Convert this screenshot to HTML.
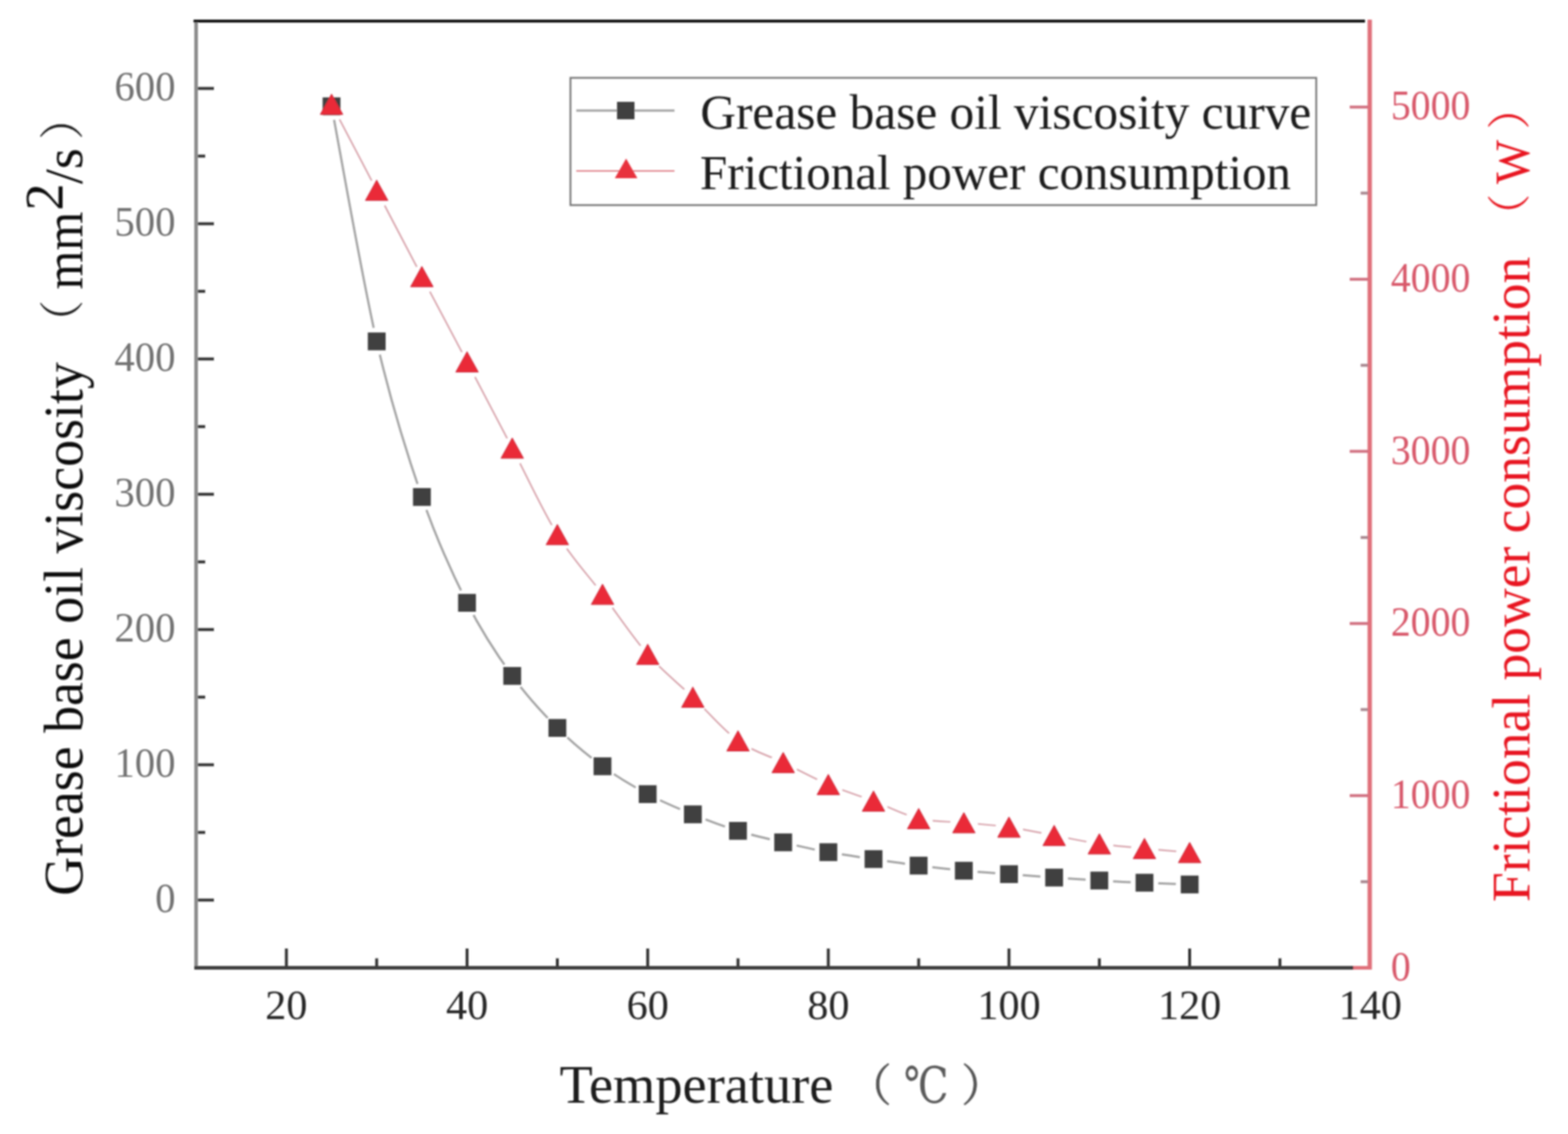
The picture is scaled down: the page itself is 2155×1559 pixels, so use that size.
<!DOCTYPE html>
<html><head><meta charset="utf-8"><title>Grease base oil viscosity and frictional power consumption vs temperature</title>
<style>
html,body{margin:0;padding:0;background:#fff;}
svg{display:block;}
.serif{font-family:"Liberation Serif","Noto Serif CJK SC",serif;}
.cjk{font-family:"Noto Serif CJK SC","Liberation Serif",serif;}
</style></head><body>
<svg width="2155" height="1559" viewBox="0 0 2155 1559">
<rect width="2155" height="1559" fill="#fff"/>

<defs><filter id="soft" filterUnits="userSpaceOnUse" x="0" y="0" width="2155" height="1559"><feGaussianBlur stdDeviation="1"/></filter>
<mask id="mgray" maskUnits="userSpaceOnUse" x="0" y="0" width="2155" height="1559"><rect width="2155" height="1559" fill="#fff"/>
<circle cx="455.7" cy="146.2" r="19" fill="#000"/>
<circle cx="517.7" cy="469.3" r="19" fill="#000"/>
<circle cx="579.8" cy="683.2" r="19" fill="#000"/>
<circle cx="641.9" cy="828.8" r="19" fill="#000"/>
<circle cx="704" cy="929.2" r="19" fill="#000"/>
<circle cx="766" cy="1000.7" r="19" fill="#000"/>
<circle cx="828.1" cy="1053.4" r="19" fill="#000"/>
<circle cx="890.2" cy="1091.7" r="19" fill="#000"/>
<circle cx="952.2" cy="1119.6" r="19" fill="#000"/>
<circle cx="1014.3" cy="1142.2" r="19" fill="#000"/>
<circle cx="1076.4" cy="1158.1" r="19" fill="#000"/>
<circle cx="1138.4" cy="1171.6" r="19" fill="#000"/>
<circle cx="1200.5" cy="1181.1" r="19" fill="#000"/>
<circle cx="1262.6" cy="1190" r="19" fill="#000"/>
<circle cx="1324.7" cy="1197" r="19" fill="#000"/>
<circle cx="1386.7" cy="1201.8" r="19" fill="#000"/>
<circle cx="1448.8" cy="1206.5" r="19" fill="#000"/>
<circle cx="1510.9" cy="1210.6" r="19" fill="#000"/>
<circle cx="1572.9" cy="1213.6" r="19" fill="#000"/>
<circle cx="1635" cy="1215.9" r="19" fill="#000"/>
</mask>
<mask id="mred" maskUnits="userSpaceOnUse" x="0" y="0" width="2155" height="1559"><rect width="2155" height="1559" fill="#fff"/>
<circle cx="455.7" cy="148.1" r="19.5" fill="#000"/>
<circle cx="517.7" cy="266.4" r="19.5" fill="#000"/>
<circle cx="579.8" cy="385" r="19.5" fill="#000"/>
<circle cx="641.9" cy="502.3" r="19.5" fill="#000"/>
<circle cx="704" cy="620.8" r="19.5" fill="#000"/>
<circle cx="766" cy="739.7" r="19.5" fill="#000"/>
<circle cx="828.1" cy="821.8" r="19.5" fill="#000"/>
<circle cx="890.2" cy="904.4" r="19.5" fill="#000"/>
<circle cx="952.2" cy="963.3" r="19.5" fill="#000"/>
<circle cx="1014.3" cy="1023.3" r="19.5" fill="#000"/>
<circle cx="1076.4" cy="1053.1" r="19.5" fill="#000"/>
<circle cx="1138.4" cy="1083.4" r="19.5" fill="#000"/>
<circle cx="1200.5" cy="1106.1" r="19.5" fill="#000"/>
<circle cx="1262.6" cy="1130.2" r="19.5" fill="#000"/>
<circle cx="1324.7" cy="1135.8" r="19.5" fill="#000"/>
<circle cx="1386.7" cy="1141.9" r="19.5" fill="#000"/>
<circle cx="1448.8" cy="1153.4" r="19.5" fill="#000"/>
<circle cx="1510.9" cy="1164.9" r="19.5" fill="#000"/>
<circle cx="1572.9" cy="1171.3" r="19.5" fill="#000"/>
<circle cx="1635" cy="1176.8" r="19.5" fill="#000"/>
</mask>
</defs>
<g filter="url(#soft)">
<path d="M455.7 146.2C466 200 497.1 379.8 517.7 469.3C538.4 558.8 559.1 623.3 579.8 683.2C600.5 743.1 621.2 787.8 641.9 828.8C662.6 869.8 683.3 900.6 704 929.2C724.6 957.9 745.3 980 766 1000.7C786.7 1021.4 807.4 1038.2 828.1 1053.4C848.8 1068.6 869.5 1080.7 890.2 1091.7C910.9 1102.7 931.5 1111.2 952.2 1119.6C972.9 1128 993.6 1135.8 1014.3 1142.2C1035 1148.6 1055.7 1153.2 1076.4 1158.1C1097.1 1163 1117.8 1167.8 1138.4 1171.6C1159.1 1175.4 1179.8 1178 1200.5 1181.1C1221.2 1184.2 1241.9 1187.3 1262.6 1190C1283.3 1192.7 1304 1195 1324.7 1197C1345.3 1199 1366 1200.2 1386.7 1201.8C1407.4 1203.4 1428.1 1205 1448.8 1206.5C1469.5 1208 1490.2 1209.4 1510.9 1210.6C1531.6 1211.8 1552.2 1212.7 1572.9 1213.6C1593.6 1214.5 1624.7 1215.5 1635 1215.9" fill="none" stroke="#a2a2a2" stroke-width="3" mask="url(#mgray)"/>
<path d="M455.7 143.3C466 163 497.1 222.1 517.7 261.6C538.4 301.1 559.1 340.9 579.8 380.2C600.5 419.5 621.2 458.2 641.9 497.5C662.6 536.8 683.3 576.4 704 616C724.6 655.6 745.3 701.4 766 734.9C786.7 768.4 807.4 789.5 828.1 817C848.8 844.5 869.5 876 890.2 899.6C910.9 923.2 931.5 938.7 952.2 958.5C972.9 978.3 993.6 1003.5 1014.3 1018.5C1035 1033.5 1055.7 1038.3 1076.4 1048.3C1097.1 1058.3 1117.8 1069.8 1138.4 1078.6C1159.1 1087.4 1179.8 1093.5 1200.5 1101.3C1221.2 1109.1 1241.9 1120.5 1262.6 1125.4C1283.3 1130.4 1304 1129 1324.7 1131C1345.3 1133 1366 1134.2 1386.7 1137.1C1407.4 1140 1428.1 1144.8 1448.8 1148.6C1469.5 1152.4 1490.2 1157.1 1510.9 1160.1C1531.6 1163.1 1552.2 1164.5 1572.9 1166.5C1593.6 1168.5 1624.7 1171.1 1635 1172" fill="none" stroke="#d7a2aa" stroke-width="2.2" mask="url(#mred)"/>
<rect x="443.4" y="133.9" width="24.5" height="24.5" fill="#414141"/>
<rect x="505.5" y="457.1" width="24.5" height="24.5" fill="#414141"/>
<rect x="567.6" y="671" width="24.5" height="24.5" fill="#414141"/>
<rect x="629.6" y="816.5" width="24.5" height="24.5" fill="#414141"/>
<rect x="691.7" y="917" width="24.5" height="24.5" fill="#414141"/>
<rect x="753.8" y="988.5" width="24.5" height="24.5" fill="#414141"/>
<rect x="815.8" y="1041.2" width="24.5" height="24.5" fill="#414141"/>
<rect x="877.9" y="1079.5" width="24.5" height="24.5" fill="#414141"/>
<rect x="940" y="1107.3" width="24.5" height="24.5" fill="#414141"/>
<rect x="1002" y="1130" width="24.5" height="24.5" fill="#414141"/>
<rect x="1064.1" y="1145.8" width="24.5" height="24.5" fill="#414141"/>
<rect x="1126.2" y="1159.3" width="24.5" height="24.5" fill="#414141"/>
<rect x="1188.3" y="1168.8" width="24.5" height="24.5" fill="#414141"/>
<rect x="1250.3" y="1177.8" width="24.5" height="24.5" fill="#414141"/>
<rect x="1312.4" y="1184.8" width="24.5" height="24.5" fill="#414141"/>
<rect x="1374.5" y="1189.5" width="24.5" height="24.5" fill="#414141"/>
<rect x="1436.5" y="1194.2" width="24.5" height="24.5" fill="#414141"/>
<rect x="1498.6" y="1198.3" width="24.5" height="24.5" fill="#414141"/>
<rect x="1560.7" y="1201.3" width="24.5" height="24.5" fill="#414141"/>
<rect x="1622.8" y="1203.7" width="24.5" height="24.5" fill="#414141"/>
<path d="M455.7 129.3L471.2 157.3L440.2 157.3Z" fill="#ea2c38" stroke="#c8283a" stroke-width="1" stroke-linejoin="round"/>
<path d="M517.7 247.6L533.2 275.6L502.2 275.6Z" fill="#ea2c38" stroke="#c8283a" stroke-width="1" stroke-linejoin="round"/>
<path d="M579.8 366.2L595.3 394.2L564.3 394.2Z" fill="#ea2c38" stroke="#c8283a" stroke-width="1" stroke-linejoin="round"/>
<path d="M641.9 483.5L657.4 511.5L626.4 511.5Z" fill="#ea2c38" stroke="#c8283a" stroke-width="1" stroke-linejoin="round"/>
<path d="M704 602L719.5 630L688.5 630Z" fill="#ea2c38" stroke="#c8283a" stroke-width="1" stroke-linejoin="round"/>
<path d="M766 720.9L781.5 748.9L750.5 748.9Z" fill="#ea2c38" stroke="#c8283a" stroke-width="1" stroke-linejoin="round"/>
<path d="M828.1 803L843.6 831L812.6 831Z" fill="#ea2c38" stroke="#c8283a" stroke-width="1" stroke-linejoin="round"/>
<path d="M890.2 885.6L905.7 913.6L874.7 913.6Z" fill="#ea2c38" stroke="#c8283a" stroke-width="1" stroke-linejoin="round"/>
<path d="M952.2 944.5L967.7 972.5L936.7 972.5Z" fill="#ea2c38" stroke="#c8283a" stroke-width="1" stroke-linejoin="round"/>
<path d="M1014.3 1004.5L1029.8 1032.5L998.8 1032.5Z" fill="#ea2c38" stroke="#c8283a" stroke-width="1" stroke-linejoin="round"/>
<path d="M1076.4 1034.3L1091.9 1062.3L1060.9 1062.3Z" fill="#ea2c38" stroke="#c8283a" stroke-width="1" stroke-linejoin="round"/>
<path d="M1138.4 1064.6L1153.9 1092.6L1122.9 1092.6Z" fill="#ea2c38" stroke="#c8283a" stroke-width="1" stroke-linejoin="round"/>
<path d="M1200.5 1087.3L1216 1115.3L1185 1115.3Z" fill="#ea2c38" stroke="#c8283a" stroke-width="1" stroke-linejoin="round"/>
<path d="M1262.6 1111.4L1278.1 1139.4L1247.1 1139.4Z" fill="#ea2c38" stroke="#c8283a" stroke-width="1" stroke-linejoin="round"/>
<path d="M1324.7 1117L1340.2 1145L1309.2 1145Z" fill="#ea2c38" stroke="#c8283a" stroke-width="1" stroke-linejoin="round"/>
<path d="M1386.7 1123.1L1402.2 1151.1L1371.2 1151.1Z" fill="#ea2c38" stroke="#c8283a" stroke-width="1" stroke-linejoin="round"/>
<path d="M1448.8 1134.6L1464.3 1162.6L1433.3 1162.6Z" fill="#ea2c38" stroke="#c8283a" stroke-width="1" stroke-linejoin="round"/>
<path d="M1510.9 1146.1L1526.4 1174.1L1495.4 1174.1Z" fill="#ea2c38" stroke="#c8283a" stroke-width="1" stroke-linejoin="round"/>
<path d="M1572.9 1152.5L1588.4 1180.5L1557.4 1180.5Z" fill="#ea2c38" stroke="#c8283a" stroke-width="1" stroke-linejoin="round"/>
<path d="M1635 1158L1650.5 1186L1619.5 1186Z" fill="#ea2c38" stroke="#c8283a" stroke-width="1" stroke-linejoin="round"/>
<line x1="269.5" y1="27" x2="269.5" y2="1333" stroke="#8c8c8c" stroke-width="5"/>
<line x1="267" y1="1330.5" x2="1860" y2="1330.5" stroke="#3c3c3c" stroke-width="5"/>
<line x1="1860" y1="1330.5" x2="1885" y2="1330.5" stroke="#e0707a" stroke-width="5"/>
<line x1="266" y1="29" x2="1876" y2="29" stroke="#111" stroke-width="4"/>
<line x1="1882.5" y1="27" x2="1882.5" y2="1333" stroke="#e0707a" stroke-width="6"/>
<line x1="272" y1="1237.4" x2="294" y2="1237.4" stroke="#333" stroke-width="4"/>
<line x1="272" y1="1144.4" x2="282" y2="1144.4" stroke="#333" stroke-width="4"/>
<line x1="272" y1="1051.4" x2="294" y2="1051.4" stroke="#333" stroke-width="4"/>
<line x1="272" y1="958.4" x2="282" y2="958.4" stroke="#333" stroke-width="4"/>
<line x1="272" y1="865.5" x2="294" y2="865.5" stroke="#333" stroke-width="4"/>
<line x1="272" y1="772.5" x2="282" y2="772.5" stroke="#333" stroke-width="4"/>
<line x1="272" y1="679.5" x2="294" y2="679.5" stroke="#333" stroke-width="4"/>
<line x1="272" y1="586.5" x2="282" y2="586.5" stroke="#333" stroke-width="4"/>
<line x1="272" y1="493.5" x2="294" y2="493.5" stroke="#333" stroke-width="4"/>
<line x1="272" y1="400.5" x2="282" y2="400.5" stroke="#333" stroke-width="4"/>
<line x1="272" y1="307.6" x2="294" y2="307.6" stroke="#333" stroke-width="4"/>
<line x1="272" y1="214.6" x2="282" y2="214.6" stroke="#333" stroke-width="4"/>
<line x1="272" y1="121.6" x2="294" y2="121.6" stroke="#333" stroke-width="4"/>
<line x1="393.6" y1="1328" x2="393.6" y2="1304" stroke="#333" stroke-width="4"/>
<line x1="517.7" y1="1328" x2="517.7" y2="1317.5" stroke="#333" stroke-width="4"/>
<line x1="641.9" y1="1328" x2="641.9" y2="1304" stroke="#333" stroke-width="4"/>
<line x1="766" y1="1328" x2="766" y2="1317.5" stroke="#333" stroke-width="4"/>
<line x1="890.2" y1="1328" x2="890.2" y2="1304" stroke="#333" stroke-width="4"/>
<line x1="1014.3" y1="1328" x2="1014.3" y2="1317.5" stroke="#333" stroke-width="4"/>
<line x1="1138.4" y1="1328" x2="1138.4" y2="1304" stroke="#333" stroke-width="4"/>
<line x1="1262.6" y1="1328" x2="1262.6" y2="1317.5" stroke="#333" stroke-width="4"/>
<line x1="1386.7" y1="1328" x2="1386.7" y2="1304" stroke="#333" stroke-width="4"/>
<line x1="1510.9" y1="1328" x2="1510.9" y2="1317.5" stroke="#333" stroke-width="4"/>
<line x1="1635" y1="1328" x2="1635" y2="1304" stroke="#333" stroke-width="4"/>
<line x1="1759.1" y1="1328" x2="1759.1" y2="1317.5" stroke="#333" stroke-width="4"/>
<line x1="1870" y1="1212.2" x2="1880" y2="1212.2" stroke="#a88890" stroke-width="4"/>
<line x1="1855" y1="1093.8" x2="1880" y2="1093.8" stroke="#d07080" stroke-width="4"/>
<line x1="1870" y1="975.5" x2="1880" y2="975.5" stroke="#a88890" stroke-width="4"/>
<line x1="1855" y1="857.2" x2="1880" y2="857.2" stroke="#d07080" stroke-width="4"/>
<line x1="1870" y1="738.9" x2="1880" y2="738.9" stroke="#a88890" stroke-width="4"/>
<line x1="1855" y1="620.5" x2="1880" y2="620.5" stroke="#d07080" stroke-width="4"/>
<line x1="1870" y1="502.2" x2="1880" y2="502.2" stroke="#a88890" stroke-width="4"/>
<line x1="1855" y1="383.9" x2="1880" y2="383.9" stroke="#d07080" stroke-width="4"/>
<line x1="1870" y1="265.5" x2="1880" y2="265.5" stroke="#a88890" stroke-width="4"/>
<line x1="1855" y1="147.2" x2="1880" y2="147.2" stroke="#d07080" stroke-width="4"/>
<text class="serif" transform="translate(241.2 1254) scale(0.965 1)" font-size="58" fill="#727272" text-anchor="end">0</text>
<text class="serif" transform="translate(241.2 1068) scale(0.965 1)" font-size="58" fill="#727272" text-anchor="end">100</text>
<text class="serif" transform="translate(241.2 882.1) scale(0.965 1)" font-size="58" fill="#727272" text-anchor="end">200</text>
<text class="serif" transform="translate(241.2 696.1) scale(0.965 1)" font-size="58" fill="#727272" text-anchor="end">300</text>
<text class="serif" transform="translate(241.2 510.1) scale(0.965 1)" font-size="58" fill="#727272" text-anchor="end">400</text>
<text class="serif" transform="translate(241.2 324.2) scale(0.965 1)" font-size="58" fill="#727272" text-anchor="end">500</text>
<text class="serif" transform="translate(241.2 138.2) scale(0.965 1)" font-size="58" fill="#727272" text-anchor="end">600</text>
<text class="serif" x="393.6" y="1401" font-size="58" fill="#262626" text-anchor="middle">20</text>
<text class="serif" x="641.9" y="1401" font-size="58" fill="#262626" text-anchor="middle">40</text>
<text class="serif" x="890.2" y="1401" font-size="58" fill="#262626" text-anchor="middle">60</text>
<text class="serif" x="1138.4" y="1401" font-size="58" fill="#262626" text-anchor="middle">80</text>
<text class="serif" x="1386.7" y="1401" font-size="58" fill="#262626" text-anchor="middle">100</text>
<text class="serif" x="1635" y="1401" font-size="58" fill="#262626" text-anchor="middle">120</text>
<text class="serif" x="1883.3" y="1401" font-size="58" fill="#262626" text-anchor="middle">140</text>
<text class="serif" transform="translate(1911.5 1347.5) scale(0.96 1)" font-size="57" fill="#d8586a">0</text>
<text class="serif" transform="translate(1911.5 1110.8) scale(0.96 1)" font-size="57" fill="#d8586a">1000</text>
<text class="serif" transform="translate(1911.5 874.2) scale(0.96 1)" font-size="57" fill="#d8586a">2000</text>
<text class="serif" transform="translate(1911.5 637.5) scale(0.96 1)" font-size="57" fill="#d8586a">3000</text>
<text class="serif" transform="translate(1911.5 400.9) scale(0.96 1)" font-size="57" fill="#d8586a">4000</text>
<text class="serif" transform="translate(1911.5 164.2) scale(0.96 1)" font-size="57" fill="#d8586a">5000</text>
<rect x="784" y="107" width="1025" height="175" fill="none" stroke="#777" stroke-width="2.5"/>
<line x1="792" y1="152" x2="927" y2="152" stroke="#a0a0a0" stroke-width="3"/>
<rect x="848" y="140" width="24" height="24" fill="#414141"/>
<line x1="792" y1="235" x2="927" y2="235" stroke="#e08088" stroke-width="2"/>
<path d="M860.5 218L876 245L845 245Z" fill="#e8303c"/>
<text class="serif" x="962.5" y="176.8" font-size="67.8" fill="#1a1a1a">Grease base oil viscosity curve</text>
<text class="serif" x="962" y="260" font-size="67.4" fill="#1a1a1a">Frictional power consumption</text>
<text class="serif" x="769" y="1516" font-size="74.7" fill="#1a1a1a">Temperature</text>
<text class="cjk" x="1164.5" y="1513.6" font-size="61" fill="#555" stroke="#555" stroke-width="0.7">（</text>
<text transform="translate(1242 1515.5) scale(0.8 1)" font-family="DejaVu Serif, Noto Serif CJK SC, serif" font-size="69" fill="#5a5a5a">℃</text>
<text class="cjk" x="1321" y="1513.6" font-size="61" fill="#555" stroke="#555" stroke-width="0.7">）</text>
<g transform="rotate(-90)">
<text class="serif" x="-1231.5" y="113" font-size="76" fill="#111" textLength="733.6" lengthAdjust="spacingAndGlyphs">Grease base oil viscosity</text>
<text class="serif" x="-398" y="113" font-size="74" fill="#111" textLength="107" lengthAdjust="spacingAndGlyphs">mm</text>
<text class="serif" x="-289.5" y="86" font-size="75" fill="#111">2</text>
<text class="serif" x="-253" y="113" font-size="74" fill="#111">/s</text>
<text class="cjk" x="-474.3" y="107.5" font-size="62" fill="#222">（</text>
<text class="cjk" x="-192.2" y="107.5" font-size="62" fill="#222">）</text>
</g>
<g transform="rotate(-90)">
<text class="serif" x="-1240" y="2102" font-size="73.6" fill="#e81820">Frictional power consumption</text>
<text class="cjk" x="-326.6" y="2095.6" font-size="60" fill="#e81820">（</text>
<text class="serif" x="-253" y="2101" font-size="68" fill="#e81820" textLength="60.6" lengthAdjust="spacingAndGlyphs">W</text>
<text class="cjk" x="-177.9" y="2095.6" font-size="60" fill="#e81820">）</text>
</g>
</g>
</svg>
</body></html>
